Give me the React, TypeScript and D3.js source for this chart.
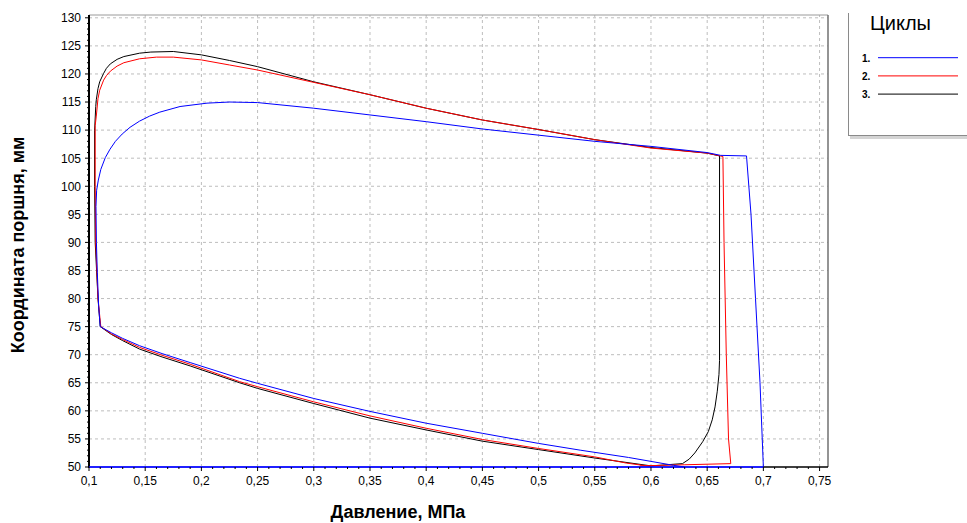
import * as d3 from "d3";

const WIDTH = 967;
const HEIGHT = 523;

// pressure (MPa), piston coordinate (mm)
const cycle1: [number, number][] = [
  [0.1, 50.0], [0.7, 50.0], [0.697, 65.0], [0.693, 80.0], [0.689, 95.0], [0.685, 105.4],
  [0.662, 105.5], [0.65, 106.0], [0.6, 107.1], [0.55, 108.0], [0.5, 109.1], [0.45, 110.2],
  [0.4, 111.5], [0.35, 112.7], [0.3, 113.9], [0.25, 114.9], [0.225, 115.0], [0.205, 114.8],
  [0.181, 114.2], [0.163, 113.2], [0.154, 112.5], [0.145, 111.6], [0.1365, 110.5],
  [0.1295, 109.3], [0.1235, 108.0], [0.1187, 106.6], [0.1145, 105.1], [0.1105, 103.0],
  [0.1083, 101.1], [0.1068, 99.3], [0.1062, 96.4], [0.1066, 90.0], [0.1074, 84.6],
  [0.1086, 78.6], [0.11, 75.0], [0.12, 73.9], [0.13, 72.9], [0.145, 71.6], [0.165, 70.2],
  [0.19, 68.6], [0.234, 65.8], [0.25, 64.9], [0.3, 62.2], [0.35, 59.9], [0.4, 57.8],
  [0.45, 56.0], [0.5, 54.2], [0.537, 53.0], [0.58, 51.7], [0.62, 50.3], [0.63, 50.0],
];

const cycle2: [number, number][] = [
  [0.59, 50.2], [0.63, 50.4], [0.671, 50.6], [0.669, 55.0], [0.667, 70.0], [0.665, 90.0],
  [0.664, 105.3], [0.65, 105.9], [0.6, 106.8], [0.55, 108.3], [0.5, 110.1], [0.45, 111.8],
  [0.4, 113.9], [0.35, 116.3], [0.3, 118.5], [0.25, 120.7], [0.225, 121.6], [0.2, 122.5],
  [0.175, 123.0], [0.16, 123.0], [0.145, 122.7], [0.131, 122.0], [0.125, 121.4],
  [0.119, 120.5], [0.1155, 119.7], [0.113, 118.9], [0.1095, 117.1], [0.108, 115.6],
  [0.1065, 112.5], [0.1055, 110.8], [0.1055, 100.0], [0.106, 90.0], [0.108, 80.0],
  [0.1105, 75.0], [0.12, 73.7], [0.13, 72.7], [0.145, 71.3], [0.165, 69.9], [0.19, 68.3],
  [0.234, 65.2], [0.25, 64.3], [0.3, 61.6], [0.35, 59.1], [0.4, 56.9], [0.45, 54.9],
  [0.5, 53.3], [0.55, 51.8], [0.578, 50.7], [0.6, 50.1],
];

const cycle3: [number, number][] = [
  [0.6, 50.2], [0.628, 50.6], [0.634, 51.4], [0.639, 52.5], [0.646, 54.5], [0.651, 56.3],
  [0.6545, 58.4], [0.657, 60.7], [0.659, 63.5], [0.6605, 66.5], [0.661, 69.0], [0.661, 105.4],
  [0.65, 105.9], [0.6, 106.9], [0.55, 108.3], [0.5, 110.1], [0.45, 111.8], [0.4, 113.9],
  [0.35, 116.3], [0.3, 118.6], [0.25, 121.3], [0.225, 122.4], [0.2, 123.4], [0.175, 124.0],
  [0.155, 123.9], [0.145, 123.7], [0.131, 123.1], [0.125, 122.6], [0.119, 121.8],
  [0.1155, 121.0], [0.113, 120.1], [0.1095, 118.6], [0.108, 117.4], [0.1065, 115.4],
  [0.106, 114.2], [0.105, 110.0], [0.105, 100.0], [0.1055, 90.0], [0.108, 80.0], [0.11, 75.0],
  [0.12, 73.6], [0.13, 72.5], [0.145, 71.0], [0.165, 69.6], [0.19, 68.0], [0.234, 65.0],
  [0.25, 64.0], [0.3, 61.3], [0.35, 58.7], [0.4, 56.6], [0.45, 54.6], [0.5, 53.1],
  [0.55, 51.6], [0.6, 50.2],
];

const seriesNames = ["1.", "2.", "3."];
const seriesColors = ["#0000ff", "#ff0000", "#000000"];
const xTicks = [0.1, 0.15, 0.2, 0.25, 0.3, 0.35, 0.4, 0.45, 0.5, 0.55, 0.6, 0.65, 0.7, 0.75];
const yTicks = [50, 55, 60, 65, 70, 75, 80, 85, 90, 95, 100, 105, 110, 115, 120, 125, 130];

const margin = { top: 15, right: 139, bottom: 56, left: 89 };

export default function App() {
  const x = d3
    .scaleLinear()
    .domain([0.1, 0.7575])
    .range([margin.left, WIDTH - margin.right]);
  const y = d3
    .scaleLinear()
    .domain([50, 130.5])
    .range([HEIGHT - margin.bottom, margin.top]);

  const line = d3
    .line<[number, number]>()
    .x((d) => x(d[0]))
    .y((d) => y(d[1]));

  const x0 = x.range()[0];
  const x1 = x.range()[1];
  const y0 = y.range()[0];
  const y1 = y.range()[1];

  const xMinor = d3.range(10, 76).map((v) => v / 100);
  const yMinor = d3.range(50, 131);
  const fmt = (v: number) => String(v).replace(".", ",");
  const font = "'Liberation Sans', Arial, sans-serif";

  // black first, blue last (blue sits on top in the original)
  const cycles = [cycle1, cycle2, cycle3];
  const order = [2, 1, 0];

  return (
    <div style={{ position: "fixed", left: 0, top: 0 }}>
      <svg width={WIDTH} height={HEIGHT} style={{ display: "block", background: "#fff" }}>
        {/* grid */}
        <g stroke="#bdbdbd" strokeWidth={1} strokeDasharray="3,3">
          {xTicks
            .filter((t) => t > 0.1)
            .map((t) => (
              <line key={`gx${t}`} x1={x(t)} x2={x(t)} y1={y0} y2={y1} />
            ))}
          {yTicks
            .filter((t) => t > 50)
            .map((t) => (
              <line key={`gy${t}`} x1={x0} x2={x1} y1={y(t)} y2={y(t)} />
            ))}
        </g>

        {/* frame */}
        <line x1={x0} x2={x1} y1={y1} y2={y1} stroke="#9a9a9a" />
        <line x1={x1} x2={x1} y1={y1} y2={y0} stroke="#707070" strokeWidth={1.5} />

        {/* curves */}
        {order.map((i) => (
          <path
            key={`c${i}`}
            d={line(cycles[i]) ?? ""}
            fill="none"
            stroke={seriesColors[i]}
            strokeWidth={1}
          />
        ))}

        {/* axes */}
        <line x1={x0} x2={x0} y1={y1} y2={y0 + 1} stroke="#000" strokeWidth={2} />
        <line x1={x(0.7)} x2={x1} y1={y0} y2={y0} stroke="#000" strokeWidth={1.5} />
        <line x1={x0} x2={x(0.7)} y1={y0} y2={y0} stroke="#0000ff" strokeWidth={1.5} />
        <g stroke="#000" strokeWidth={1}>
          {yMinor.map((t) => (
            <line key={`ym${t}`} x1={x0 - (t % 5 === 0 ? 4 : 2)} x2={x0} y1={y(t)} y2={y(t)} />
          ))}
          {xMinor.map((t, i) => (
            <line key={`xm${t}`} x1={x(t)} x2={x(t)} y1={y0} y2={y0 + (i % 5 === 0 ? 4 : 2)} />
          ))}
        </g>
        <g fontFamily={font} fontSize={12} fill="#000">
          {yTicks.map((t) => (
            <text key={`yl${t}`} x={x0 - 8} y={y(t)} dy="0.36em" textAnchor="end">
              {t}
            </text>
          ))}
          {xTicks.map((t) => (
            <text key={`xl${t}`} x={x(t)} y={y0 + 18} textAnchor="middle">
              {fmt(t)}
            </text>
          ))}
        </g>

        {/* axis titles */}
        <text
          x={398}
          y={518}
          textAnchor="middle"
          fontFamily={font}
          fontWeight="bold"
          fontSize={18}
        >
          Давление, МПа
        </text>
        <text
          transform="translate(24,245) rotate(-90)"
          textAnchor="middle"
          fontFamily={font}
          fontWeight="bold"
          fontSize={18}
        >
          Координата поршня, мм
        </text>

        {/* legend */}
        <rect x={850} y={135} width={120} height={4} fill="#d4d4d4" />
        <rect x={848} y={13} width={125} height={122} fill="#fff" />
        <line x1={848.5} x2={848.5} y1={13} y2={135} stroke="#8a8a8a" />
        <line x1={848} x2={967} y1={135.5} y2={135.5} stroke="#8a8a8a" />
        <text x={870} y={30} fontFamily={font} fontSize={20}>
          Циклы
        </text>
        {seriesNames.map((name, i) => (
          <g key={name}>
            <text
              x={862}
              y={61.5 + i * 18.2}
              fontFamily={font}
              fontSize={10}
              fontWeight="bold"
            >
              {name}
            </text>
            <line
              x1={878}
              x2={958}
              y1={57.7 + i * 18.2}
              y2={57.7 + i * 18.2}
              stroke={seriesColors[i]}
              strokeWidth={1}
            />
          </g>
        ))}
      </svg>
    </div>
  );
}
